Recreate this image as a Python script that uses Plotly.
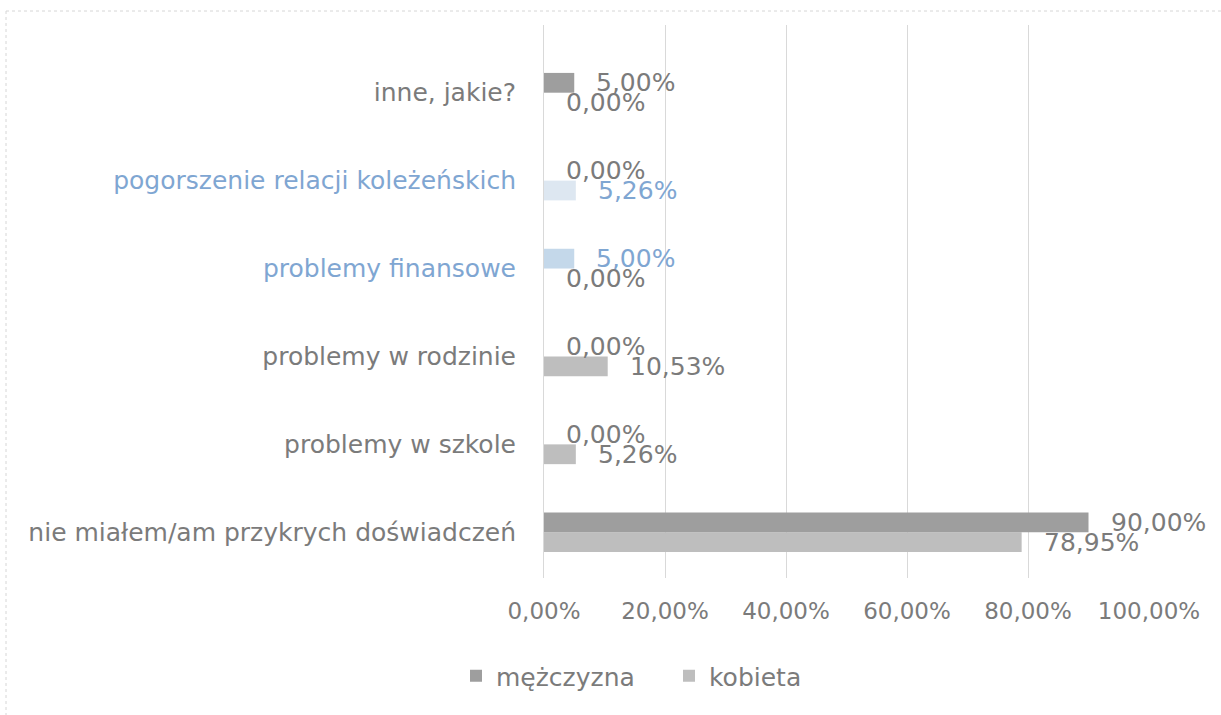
import plotly.graph_objects as go

categories = [
    "nie miałem/am przykrych doświadczeń",
    "problemy w szkole",
    "problemy w rodzinie",
    "problemy finansowe",
    "pogorszenie relacji koleżeńskich",
    "inne, jakie?",
]
men = [90.00, 0.00, 0.00, 5.00, 0.00, 5.00]
women = [78.95, 5.26, 10.53, 0.00, 5.26, 0.00]
x_ticks = [0, 20, 40, 60, 80, 100]

GRAY_TXT = "#7b7b7b"
BLUE_TXT = "#7fa6d2"
MEN_COL = "#9e9e9e"
WOMEN_COL = "#bebebe"

men_colors = [MEN_COL, MEN_COL, MEN_COL, "#c4d8ea", MEN_COL, MEN_COL]
women_colors = [WOMEN_COL, WOMEN_COL, WOMEN_COL, WOMEN_COL, "#dde7f1", WOMEN_COL]
men_lbl_colors = [GRAY_TXT, GRAY_TXT, GRAY_TXT, BLUE_TXT, GRAY_TXT, GRAY_TXT]
women_lbl_colors = [GRAY_TXT, GRAY_TXT, GRAY_TXT, GRAY_TXT, BLUE_TXT, GRAY_TXT]
cat_colors = [GRAY_TXT, GRAY_TXT, GRAY_TXT, BLUE_TXT, BLUE_TXT, GRAY_TXT]

FONT = "DejaVu Sans"
BARGAP = 0.55

fig = go.Figure()
fig.add_trace(go.Bar(
    y=list(range(len(categories))), x=women, orientation="h", name="kobieta",
    marker=dict(color=women_colors, line=dict(width=0)),
))
fig.add_trace(go.Bar(
    y=list(range(len(categories))), x=men, orientation="h", name="mężczyzna",
    marker=dict(color=men_colors, line=dict(width=0)),
))

def fmt(v):
    return f"{v:.2f}".replace(".", ",") + "%"

off = (1 - BARGAP) / 4
annotations = []
for i in range(len(categories)):
    annotations.append(dict(
        x=men[i], y=i + off, xref="x", yref="y", text=fmt(men[i]),
        showarrow=False, xanchor="left", yanchor="middle", xshift=20,
        font=dict(family=FONT, size=25, color=men_lbl_colors[i]),
    ))
    annotations.append(dict(
        x=women[i], y=i - off, xref="x", yref="y", text=fmt(women[i]),
        showarrow=False, xanchor="left", yanchor="middle", xshift=20,
        font=dict(family=FONT, size=25, color=women_lbl_colors[i]),
    ))

ticktext = [f"<span style='color:{c}'>{t}</span>" for t, c in zip(categories, cat_colors)]

L, R, T, B = 544, 72, 25, 137
W, H = 1221, 715
pw, ph = W - L - R, H - T - B

def px_x(p):
    return (p - L) / pw

def px_y(p):
    return (H - B - p) / ph

fig.update_layout(
    width=W, height=H,
    margin=dict(l=L, r=R, t=T, b=B),
    paper_bgcolor="white", plot_bgcolor="white",
    barmode="group", bargap=BARGAP, bargroupgap=0,
    font=dict(family=FONT, color=GRAY_TXT, size=22),
    annotations=annotations,
    legend=dict(
        orientation="h", traceorder="reversed",
        xref="container", yref="container",
        x=456 / W, xanchor="left", y=1 - 676 / H, yanchor="middle",
        font=dict(family=FONT, size=25, color=GRAY_TXT),
        itemwidth=30, entrywidth=168, entrywidthmode="pixels",
    ),
    xaxis=dict(
        range=[0, 100], tickvals=x_ticks,
        ticktext=[fmt(v) for v in x_ticks],
        showgrid=True, gridcolor="#d9d9d9", gridwidth=1,
        zeroline=False, showline=False, ticks="",
        ticklabelstandoff=17,
        tickfont=dict(family=FONT, size=23, color=GRAY_TXT),
    ),
    yaxis=dict(
        tickvals=list(range(len(categories))), ticktext=ticktext,
        range=[-0.52, 5.77], showgrid=False, zeroline=False,
        showline=True, linecolor="#d9d9d9", ticks="",
        ticklabelstandoff=22,
        tickfont=dict(family=FONT, size=25, color=GRAY_TXT),
    ),
    shapes=[
        dict(type="line", xref="paper", yref="paper",
             x0=px_x(6), x1=px_x(W + 2), y0=px_y(11), y1=px_y(11),
             line=dict(color="#d6d6d6", width=1, dash="dot")),
        dict(type="line", xref="paper", yref="paper",
             x0=px_x(6), x1=px_x(6), y0=px_y(11), y1=px_y(H + 2),
             line=dict(color="#d6d6d6", width=1, dash="dot")),
    ],
)

fig.write_html("out.html", config={"displayModeBar": False},
               post_script="document.body.style.margin='0';")
